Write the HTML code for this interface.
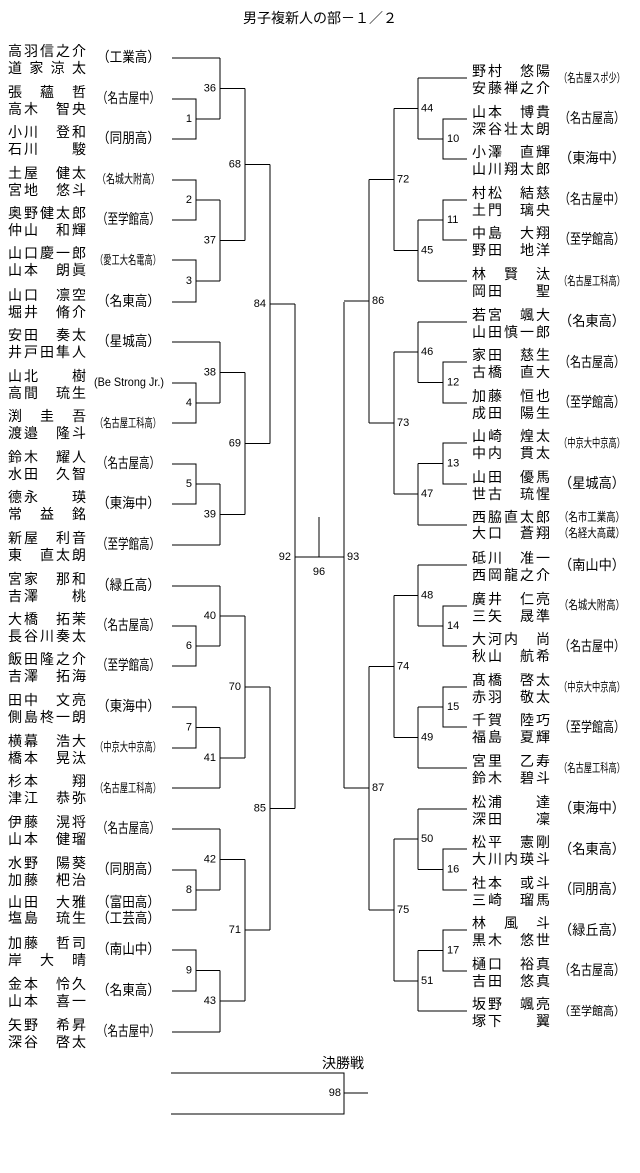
<!DOCTYPE html>
<html><head><meta charset="utf-8"><style>
html,body{margin:0;padding:0;background:#fff}
svg{display:block}
text{font-family:"Liberation Sans","Noto Sans CJK JP",sans-serif;fill:#000;dominant-baseline:central}
.n{font-size:14px}
.s{font-size:14px}
.t{font-size:12px}
.k{font-size:11px}
.r{text-anchor:end}
.m{text-anchor:middle}
path{fill:none;stroke:#000;stroke-width:1}
</style></head><body>
<svg width="640" height="1173" viewBox="0 0 640 1173" xmlns="http://www.w3.org/2000/svg" shape-rendering="crispEdges">
<text x="320" y="18" class="s m">男子複新人の部－１／２</text>
<path d="M172 58H220 M172 99H196V139H172 M196 119H220 M220 58V119 M220 88.5H245
M172 180H196V220H172 M196 200H220 M172 260H196V302H172 M196 281H220 M220 200V281 M220 240.5H245
M245 88.5V240.5 M245 164.5H270
M172 342H220 M172 383H196V423H172 M196 403H220 M220 342V403 M220 372.5H245
M172 464H196V504H172 M196 484H220 M172 545H220 M220 484V545 M220 514.5H245
M245 372.5V514.5 M245 443.5H270 M270 164.5V443.5 M270 304H295
M172 586H220 M172 626H196V666H172 M196 646H220 M220 586V646 M220 616H245
M172 707H196V748H172 M196 727.5H220 M172 788H220 M220 727.5V788 M220 758H245
M245 616V758 M245 687H270
M172 829H220 M172 870H196V910H172 M196 890H220 M220 829V890 M220 859.5H245
M172 950H196V991H172 M196 970.5H220 M172 1032H220 M220 970.5V1032 M220 1001H245
M245 859.5V1001 M245 930H270 M270 687V930 M270 808.5H295
M295 304V808.5 M295 557H344 M344 302V788 M319 517V557
M467 78H418 M467 119H443V159H467 M443 139H418 M418 78V139 M418 108.5H394
M467 200H443V240H467 M443 220H418 M467 281H418 M418 220V281 M418 250.5H394
M394 108.5V250.5 M394 179.5H369
M467 322H418 M467 362H443V403H467 M443 382.5H418 M418 322V382.5 M418 352H394
M467 443H443V484H467 M443 463.5H418 M467 525H418 M418 463.5V525 M418 494H394
M394 352V494 M394 423H369 M369 179.5V423 M369 301H344
M467 565H418 M467 606H443V646H467 M443 626H418 M418 565V626 M418 595.5H394
M467 687H443V727H467 M443 707H418 M467 768H418 M418 707V768 M418 737.5H394
M394 595.5V737.5 M394 666.5H369
M467 809H418 M467 849H443V890H467 M443 869.5H418 M418 809V869.5 M418 839H394
M467 930H443V971H467 M443 950.5H418 M467 1011H418 M418 950.5V1011 M418 981H394
M394 839V981 M394 910H369 M369 666.5V910 M369 788H344
M171 1073H344V1114H171 M344 1093H368"/>
<!-- left numbers -->
<g class="k r">
<text x="192" y="119" class="k r">1</text><text x="216" y="88.5" class="k r">36</text>
<text x="192" y="200" class="k r">2</text><text x="192" y="281" class="k r">3</text>
<text x="216" y="240.5" class="k r">37</text><text x="241" y="164.5" class="k r">68</text>
<text x="266" y="304" class="k r">84</text>
<text x="192" y="403" class="k r">4</text><text x="216" y="372.5" class="k r">38</text>
<text x="192" y="484" class="k r">5</text><text x="216" y="514.5" class="k r">39</text>
<text x="241" y="443.5" class="k r">69</text>
<text x="192" y="646" class="k r">6</text><text x="216" y="616" class="k r">40</text>
<text x="192" y="727.5" class="k r">7</text><text x="216" y="758" class="k r">41</text>
<text x="241" y="687" class="k r">70</text>
<text x="192" y="890" class="k r">8</text><text x="216" y="859.5" class="k r">42</text>
<text x="192" y="970.5" class="k r">9</text><text x="216" y="1001" class="k r">43</text>
<text x="241" y="930" class="k r">71</text><text x="266" y="808.5" class="k r">85</text>
<text x="291" y="557" class="k r">92</text>
</g>
<g>
<text x="447" y="139" class="k">10</text><text x="421" y="108.5" class="k">44</text>
<text x="447" y="220" class="k">11</text><text x="421" y="250.5" class="k">45</text>
<text x="397" y="179.5" class="k">72</text>
<text x="447" y="382.5" class="k">12</text><text x="421" y="352" class="k">46</text>
<text x="447" y="463.5" class="k">13</text><text x="421" y="494" class="k">47</text>
<text x="397" y="423" class="k">73</text><text x="372" y="301" class="k">86</text>
<text x="447" y="626" class="k">14</text><text x="421" y="595.5" class="k">48</text>
<text x="447" y="707" class="k">15</text><text x="421" y="737.5" class="k">49</text>
<text x="397" y="666.5" class="k">74</text>
<text x="447" y="869.5" class="k">16</text><text x="421" y="839" class="k">50</text>
<text x="447" y="950.5" class="k">17</text><text x="421" y="981" class="k">51</text>
<text x="397" y="910" class="k">75</text><text x="372" y="788" class="k">87</text>
<text x="347" y="557" class="k">93</text>
<text x="319" y="572" class="k m">96</text>
<text x="341" y="1093" class="k r">98</text>
</g>
<text x="322" y="1063" class="s">決勝戦</text>

<!-- LEFT TEAMS -->
<g>
<text x="8" y="51" class="n" textLength="78">高羽信之介</text><text x="8" y="68" class="n" textLength="78">道家涼太</text><text x="97" y="57" class="s" textLength="63" lengthAdjust="spacingAndGlyphs">（工業高）</text>
<text x="8" y="92" class="n" textLength="78">張　蘊　哲</text><text x="8" y="109" class="n" textLength="78">高木　智央</text><text x="97" y="98" class="s" textLength="63" lengthAdjust="spacingAndGlyphs">（名古屋中）</text>
<text x="8" y="132" class="n" textLength="78">小川　登和</text><text x="8" y="149" class="n" textLength="78">石川　　駿</text><text x="97" y="138" class="s" textLength="63" lengthAdjust="spacingAndGlyphs">（同朋高）</text>
<text x="8" y="173" class="n" textLength="78">土屋　健太</text><text x="8" y="190" class="n" textLength="78">宮地　悠斗</text><text x="97" y="179" class="t" textLength="63" lengthAdjust="spacingAndGlyphs">（名城大附高）</text>
<text x="8" y="213" class="n" textLength="78">奥野健太郎</text><text x="8" y="230" class="n" textLength="78">仲山　和輝</text><text x="97" y="219" class="s" textLength="63" lengthAdjust="spacingAndGlyphs">（至学館高）</text>
<text x="8" y="253" class="n" textLength="78">山口慶一郎</text><text x="8" y="270" class="n" textLength="78">山本　朗眞</text><text x="95" y="260" class="t" textLength="66" lengthAdjust="spacingAndGlyphs">（愛工大名電高）</text>
<text x="8" y="295" class="n" textLength="78">山口　凛空</text><text x="8" y="312" class="n" textLength="78">堀井　脩介</text><text x="97" y="301" class="s" textLength="63" lengthAdjust="spacingAndGlyphs">（名東高）</text>
<text x="8" y="335" class="n" textLength="78">安田　奏太</text><text x="8" y="352" class="n" textLength="78">井戸田隼人</text><text x="97" y="341" class="s" textLength="63" lengthAdjust="spacingAndGlyphs">（星城高）</text>
<text x="8" y="376" class="n" textLength="78">山北　　樹</text><text x="8" y="393" class="n" textLength="78">高間　琉生</text><text x="94" y="382" class="t" textLength="70" lengthAdjust="spacingAndGlyphs">(Be Strong Jr.)</text>
<text x="8" y="416" class="n" textLength="78">渕　圭　吾</text><text x="8" y="433" class="n" textLength="78">渡邉　隆斗</text><text x="95" y="423" class="t" textLength="66" lengthAdjust="spacingAndGlyphs">（名古屋工科高）</text>
<text x="8" y="457" class="n" textLength="78">鈴木　耀人</text><text x="8" y="474" class="n" textLength="78">水田　久智</text><text x="97" y="463" class="s" textLength="63" lengthAdjust="spacingAndGlyphs">（名古屋高）</text>
<text x="8" y="497" class="n" textLength="78">德永　　瑛</text><text x="8" y="514" class="n" textLength="78">常　益　銘</text><text x="97" y="503" class="s" textLength="63" lengthAdjust="spacingAndGlyphs">（東海中）</text>
<text x="8" y="538" class="n" textLength="78">新屋　利音</text><text x="8" y="555" class="n" textLength="78">東　直太朗</text><text x="97" y="544" class="s" textLength="63" lengthAdjust="spacingAndGlyphs">（至学館高）</text>
<text x="8" y="579" class="n" textLength="78">宮家　那和</text><text x="8" y="596" class="n" textLength="78">吉澤　　桃</text><text x="97" y="585" class="s" textLength="63" lengthAdjust="spacingAndGlyphs">（緑丘高）</text>
<text x="8" y="619" class="n" textLength="78">大橋　拓茉</text><text x="8" y="636" class="n" textLength="78">長谷川奏太</text><text x="97" y="625" class="s" textLength="63" lengthAdjust="spacingAndGlyphs">（名古屋高）</text>
<text x="8" y="659" class="n" textLength="78">飯田隆之介</text><text x="8" y="676" class="n" textLength="78">吉澤　拓海</text><text x="97" y="665" class="s" textLength="63" lengthAdjust="spacingAndGlyphs">（至学館高）</text>
<text x="8" y="700" class="n" textLength="78">田中　文亮</text><text x="8" y="717" class="n" textLength="78">側島柊一朗</text><text x="97" y="706" class="s" textLength="63" lengthAdjust="spacingAndGlyphs">（東海中）</text>
<text x="8" y="741" class="n" textLength="78">横幕　浩大</text><text x="8" y="758" class="n" textLength="78">橋本　晃汰</text><text x="95" y="747" class="t" textLength="66" lengthAdjust="spacingAndGlyphs">（中京大中京高）</text>
<text x="8" y="781" class="n" textLength="78">杉本　　翔</text><text x="8" y="798" class="n" textLength="78">津江　恭弥</text><text x="95" y="788" class="t" textLength="66" lengthAdjust="spacingAndGlyphs">（名古屋工科高）</text>
<text x="8" y="822" class="n" textLength="78">伊藤　滉将</text><text x="8" y="839" class="n" textLength="78">山本　健瑠</text><text x="97" y="828" class="s" textLength="63" lengthAdjust="spacingAndGlyphs">（名古屋高）</text>
<text x="8" y="863" class="n" textLength="78">水野　陽葵</text><text x="8" y="880" class="n" textLength="78">加藤　杷治</text><text x="97" y="869" class="s" textLength="63" lengthAdjust="spacingAndGlyphs">（同朋高）</text>
<text x="8" y="902" class="n" textLength="78">山田　大雅</text><text x="8" y="918" class="n" textLength="78">塩島　琉生</text><text x="97" y="902" class="s" textLength="63" lengthAdjust="spacingAndGlyphs">（富田高）</text><text x="97" y="918" class="s" textLength="63" lengthAdjust="spacingAndGlyphs">（工芸高）</text>
<text x="8" y="943" class="n" textLength="78">加藤　哲司</text><text x="8" y="960" class="n" textLength="78">岸　大　晴</text><text x="97" y="949" class="s" textLength="63" lengthAdjust="spacingAndGlyphs">（南山中）</text>
<text x="8" y="984" class="n" textLength="78">金本　怜久</text><text x="8" y="1001" class="n" textLength="78">山本　喜一</text><text x="97" y="990" class="s" textLength="63" lengthAdjust="spacingAndGlyphs">（名東高）</text>
<text x="8" y="1025" class="n" textLength="78">矢野　希昇</text><text x="8" y="1042" class="n" textLength="78">深谷　啓太</text><text x="97" y="1031" class="s" textLength="63" lengthAdjust="spacingAndGlyphs">（名古屋中）</text>
</g>

<!-- RIGHT TEAMS -->
<g>
<text x="472" y="71" class="n" textLength="78">野村　悠陽</text><text x="472" y="88" class="n" textLength="78">安藤禅之介</text><text x="559" y="78" class="t" textLength="66" lengthAdjust="spacingAndGlyphs">（名古屋スポ少）</text>
<text x="472" y="112" class="n" textLength="78">山本　博貴</text><text x="472" y="129" class="n" textLength="78">深谷壮太朗</text><text x="559" y="118" class="s" textLength="66" lengthAdjust="spacingAndGlyphs">（名古屋高）</text>
<text x="472" y="152" class="n" textLength="78">小澤　直輝</text><text x="472" y="169" class="n" textLength="78">山川翔太郎</text><text x="559" y="158" class="s" textLength="66" lengthAdjust="spacingAndGlyphs">（東海中）</text>
<text x="472" y="193" class="n" textLength="78">村松　結慈</text><text x="472" y="210" class="n" textLength="78">土門　璃央</text><text x="559" y="199" class="s" textLength="66" lengthAdjust="spacingAndGlyphs">（名古屋中）</text>
<text x="472" y="233" class="n" textLength="78">中島　大翔</text><text x="472" y="250" class="n" textLength="78">野田　地洋</text><text x="559" y="239" class="s" textLength="66" lengthAdjust="spacingAndGlyphs">（至学館高）</text>
<text x="472" y="274" class="n" textLength="78">林　賢　汰</text><text x="472" y="291" class="n" textLength="78">岡田　　聖</text><text x="559" y="281" class="t" textLength="66" lengthAdjust="spacingAndGlyphs">（名古屋工科高）</text>
<text x="472" y="315" class="n" textLength="78">若宮　颯大</text><text x="472" y="332" class="n" textLength="78">山田慎一郎</text><text x="559" y="321" class="s" textLength="66" lengthAdjust="spacingAndGlyphs">（名東高）</text>
<text x="472" y="355" class="n" textLength="78">家田　慈生</text><text x="472" y="372" class="n" textLength="78">古橋　直大</text><text x="559" y="362" class="s" textLength="66" lengthAdjust="spacingAndGlyphs">（名古屋高）</text>
<text x="472" y="396" class="n" textLength="78">加藤　恒也</text><text x="472" y="413" class="n" textLength="78">成田　陽生</text><text x="559" y="402" class="s" textLength="66" lengthAdjust="spacingAndGlyphs">（至学館高）</text>
<text x="472" y="436" class="n" textLength="78">山崎　煌太</text><text x="472" y="453" class="n" textLength="78">中内　貫太</text><text x="559" y="443" class="t" textLength="66" lengthAdjust="spacingAndGlyphs">（中京大中京高）</text>
<text x="472" y="477" class="n" textLength="78">山田　優馬</text><text x="472" y="494" class="n" textLength="78">世古　琉惺</text><text x="559" y="483" class="s" textLength="66" lengthAdjust="spacingAndGlyphs">（星城高）</text>
<text x="472" y="517" class="n" textLength="78">西脇直太郎</text><text x="472" y="533" class="n" textLength="78">大口　蒼翔</text><text x="559" y="517" class="t" textLength="66" lengthAdjust="spacingAndGlyphs">（名市工業高）</text><text x="559" y="533" class="t" textLength="66" lengthAdjust="spacingAndGlyphs">（名経大高蔵）</text>
<text x="472" y="558" class="n" textLength="78">砥川　准一</text><text x="472" y="575" class="n" textLength="78">西岡龍之介</text><text x="559" y="565" class="s" textLength="66" lengthAdjust="spacingAndGlyphs">（南山中）</text>
<text x="472" y="599" class="n" textLength="78">廣井　仁亮</text><text x="472" y="616" class="n" textLength="78">三矢　晟準</text><text x="559" y="605" class="t" textLength="66" lengthAdjust="spacingAndGlyphs">（名城大附高）</text>
<text x="472" y="639" class="n" textLength="78">大河内　尚</text><text x="472" y="656" class="n" textLength="78">秋山　航希</text><text x="559" y="646" class="s" textLength="66" lengthAdjust="spacingAndGlyphs">（名古屋中）</text>
<text x="472" y="680" class="n" textLength="78">髙橋　啓太</text><text x="472" y="697" class="n" textLength="78">赤羽　敬太</text><text x="559" y="687" class="t" textLength="66" lengthAdjust="spacingAndGlyphs">（中京大中京高）</text>
<text x="472" y="720" class="n" textLength="78">千賀　陸巧</text><text x="472" y="737" class="n" textLength="78">福島　夏輝</text><text x="559" y="727" class="s" textLength="66" lengthAdjust="spacingAndGlyphs">（至学館高）</text>
<text x="472" y="761" class="n" textLength="78">宮里　乙寿</text><text x="472" y="778" class="n" textLength="78">鈴木　碧斗</text><text x="559" y="768" class="t" textLength="66" lengthAdjust="spacingAndGlyphs">（名古屋工科高）</text>
<text x="472" y="802" class="n" textLength="78">松浦　　達</text><text x="472" y="819" class="n" textLength="78">深田　　凜</text><text x="559" y="808" class="s" textLength="66" lengthAdjust="spacingAndGlyphs">（東海中）</text>
<text x="472" y="842" class="n" textLength="78">松平　憲剛</text><text x="472" y="859" class="n" textLength="78">大川内瑛斗</text><text x="559" y="849" class="s" textLength="66" lengthAdjust="spacingAndGlyphs">（名東高）</text>
<text x="472" y="883" class="n" textLength="78">社本　或斗</text><text x="472" y="900" class="n" textLength="78">三崎　瑠馬</text><text x="559" y="889" class="s" textLength="66" lengthAdjust="spacingAndGlyphs">（同朋高）</text>
<text x="472" y="923" class="n" textLength="78">林　風　斗</text><text x="472" y="940" class="n" textLength="78">黒木　悠世</text><text x="559" y="930" class="s" textLength="66" lengthAdjust="spacingAndGlyphs">（緑丘高）</text>
<text x="472" y="964" class="n" textLength="78">樋口　裕真</text><text x="472" y="981" class="n" textLength="78">吉田　悠真</text><text x="559" y="970" class="s" textLength="66" lengthAdjust="spacingAndGlyphs">（名古屋高）</text>
<text x="472" y="1004" class="n" textLength="78">坂野　颯亮</text><text x="472" y="1021" class="n" textLength="78">塚下　　翼</text><text x="559" y="1011" class="t" textLength="66" lengthAdjust="spacingAndGlyphs">（至学館高）</text>
</g>
</svg>
</body></html>
